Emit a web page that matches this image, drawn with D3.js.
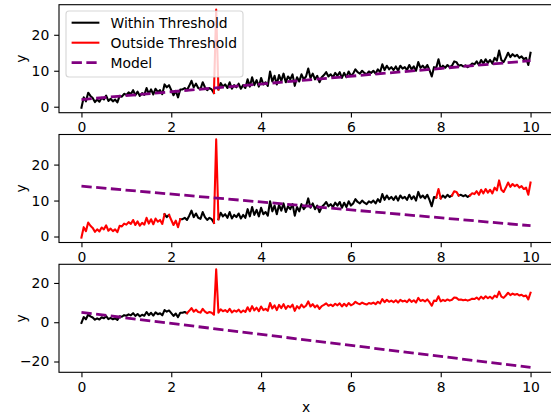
<!DOCTYPE html>
<html>
<head>
<meta charset="utf-8">
<script src="https://cdn.jsdelivr.net/npm/d3@7"></script>
<style>
  body { margin: 0; background: #fff; }
  text { font-family: "DejaVu Sans", sans-serif; }
</style>
</head>
<body>
<script>
// observed signal, sampled every 0.05 from x = 0 to x = 10
var ys = [
  -0.3, 2.6, 1.5, 3.9, 3.0, 2.4, 1.3, 2.0, 1.4, 2.5,
  2.0, 3.1, 1.6, 2.2, 1.5, 2.0, 1.2, 3.0, 2.8, 3.6,
  3.3, 4.0, 3.5, 4.6, 3.2, 4.2, 3.0, 3.8, 3.3, 5.2,
  3.6, 4.8, 3.4, 5.0, 4.1, 4.6, 3.5, 6.2, 5.4, 6.0,
  4.6, 3.2, 4.4, 2.6, 4.8, 4.8, 5.2, 4.6, 5.8, 7.2,
  5.4, 6.4, 5.2, 4.9, 6.8, 5.4, 4.6, 5.2, 4.8, 3.8,
  27.0, 4.8, 6.6, 5.6, 6.2, 5.2, 6.8, 5.0, 6.0, 5.4,
  6.4, 5.0, 6.0, 5.2, 7.6, 5.6, 8.2, 6.0, 7.4, 5.6,
  8.0, 6.2, 6.8, 5.8, 9.8, 7.0, 8.6, 6.2, 8.8, 7.2,
  9.2, 6.8, 8.4, 7.6, 9.0, 5.8, 8.2, 7.0, 9.0, 7.6,
  8.4, 10.6, 8.0, 9.2, 7.6, 8.6, 6.8, 8.2, 8.8, 9.6,
  8.4, 9.0, 8.2, 9.4, 8.6, 9.6, 8.0, 9.4, 8.2, 9.8,
  8.6, 9.2, 10.4, 9.6, 9.2, 10.0, 9.4, 9.0, 9.8, 9.4,
  10.0, 9.2, 10.4, 9.6, 11.8, 10.2, 11.4, 10.4, 11.0, 10.2,
  11.2, 10.0, 11.4, 10.6, 11.0, 10.2, 11.6, 10.4, 11.2, 10.0,
  12.4, 10.8, 11.4, 10.6, 11.6, 10.2, 8.4, 11.0, 10.8, 13.2,
  10.6, 11.4, 10.8, 11.6, 11.0, 11.4, 12.6, 12.4, 11.4, 11.6,
  11.2, 11.5, 11.0, 11.4, 12.0, 11.8, 12.6, 11.6, 13.0, 12.0,
  13.2, 12.2, 13.0, 12.0, 13.6, 12.8, 15.6, 13.0, 12.4, 13.6,
  15.0, 13.8, 14.6, 14.0, 14.4, 13.6, 14.0, 13.2, 13.6, 11.6,
  15.0
];
var xs = d3.range(ys.length).map(function(i) { return i * 0.05; });

// straight-line model of each panel, value at x = 0 and at x = 10
var modelStart = [2.0, 14.0, 5.0];
var modelEnd = [12.8, 3.0, -23.0];
var threshold = 7;

var xTicks = [0, 2, 4, 6, 8, 10];
var yTicks = [[0, 10, 20], [0, 10, 20], [-20, 0, 20]];
var legendLabels = ["Within Threshold", "Outside Threshold", "Model"];

var w = 551,
    h = 416,
    left = 59,
    right = 553,
    panelH = 108,
    panelTop = [4.7, 134.5, 264.3],
    fs = 13.9,
    tick = 4.86;

var svg = d3.select("body").append("svg")
    .attr("width", w)
    .attr("height", h);

var x = d3.scaleLinear().domain([-0.5, 10.5]).range([left, right]);

function modelAt(p, xv) {
  var x0 = xs[0], x1 = xs[xs.length - 1];
  return modelStart[p] + (modelEnd[p] - modelStart[p]) * (xv - x0) / (x1 - x0);
}

function styleAxis(g) {
  g.select(".domain").remove();
  g.selectAll("line").attr("stroke", "#000").attr("stroke-width", 1.1);
  g.selectAll("text").attr("fill", "#000").style("font-size", fs + "px");
}

panelTop.forEach(function(top, p) {
  var ext = d3.extent(ys.concat([modelStart[p], modelEnd[p]]));
  var pad = (ext[1] - ext[0]) * 0.05;
  var y = d3.scaleLinear().domain([ext[0] - pad, ext[1] + pad]).range([top + panelH, top]);
  var g = svg.append("g");

  // split the signal into runs of within / outside the threshold band
  var outside = ys.map(function(v, i) { return Math.abs(v - modelAt(p, xs[i])) > threshold; });
  var runs = [];
  for (var i = 0; i < ys.length - 1; i++) {
    var red = outside[i] || outside[i + 1];
    var last = runs[runs.length - 1];
    if (last && last.red === red) last.pts.push(i + 1);
    else runs.push({ red: red, pts: [i, i + 1] });
  }
  runs = runs.filter(function(r) { return !r.red; }).concat(runs.filter(function(r) { return r.red; }));

  var line = d3.line()
      .x(function(i) { return x(xs[i]); })
      .y(function(i) { return y(ys[i]); });

  g.selectAll("path.signal").data(runs).enter().append("path")
      .attr("class", "signal")
      .attr("d", function(r) { return line(r.pts); })
      .attr("fill", "none")
      .attr("stroke", function(r) { return r.red ? "#ff0000" : "#000000"; })
      .attr("stroke-width", 2.08)
      .attr("stroke-linejoin", "round")
      .attr("stroke-linecap", "square");

  g.append("path")
      .datum([[xs[0], modelStart[p]], [xs[xs.length - 1], modelEnd[p]]])
      .attr("d", d3.line().x(function(d) { return x(d[0]); }).y(function(d) { return y(d[1]); }))
      .attr("fill", "none")
      .attr("stroke", "#800080")
      .attr("stroke-width", 2.78)
      .attr("stroke-dasharray", "10.3,4.45");

  g.append("g")
      .attr("transform", "translate(0," + (top + panelH) + ")")
      .call(d3.axisBottom(x).tickValues(xTicks).tickSize(tick).tickPadding(tick).tickSizeOuter(0))
      .call(styleAxis);

  g.append("g")
      .attr("transform", "translate(" + left + ",0)")
      .call(d3.axisLeft(y).tickValues(yTicks[p]).tickSize(tick).tickPadding(tick).tickSizeOuter(0))
      .call(styleAxis);

  g.append("rect")
      .attr("x", left)
      .attr("y", top)
      .attr("width", right - left)
      .attr("height", panelH)
      .attr("fill", "none")
      .attr("stroke", "#000")
      .attr("stroke-width", 1.1);

  g.append("text")
      .attr("transform", "translate(21," + (top + panelH / 2) + ") rotate(-90)")
      .attr("text-anchor", "middle")
      .attr("dominant-baseline", "central")
      .style("font-size", fs + "px")
      .text("y");
});

svg.append("text")
    .attr("x", (left + right) / 2)
    .attr("y", 407)
    .attr("text-anchor", "middle")
    .attr("dominant-baseline", "central")
    .style("font-size", fs + "px")
    .text("x");

// legend in the first panel
var legend = svg.append("g");
legend.append("rect")
    .attr("x", 66)
    .attr("y", 11)
    .attr("width", 177)
    .attr("height", 66)
    .attr("rx", 3)
    .attr("fill", "#fff")
    .attr("fill-opacity", 0.8)
    .attr("stroke", "#cccccc")
    .attr("stroke-opacity", 0.8)
    .attr("stroke-width", 1.1);

var legendColors = ["#000000", "#ff0000", "#800080"];
legendLabels.forEach(function(label, i) {
  var cy = 22.7 + i * 20;
  legend.append("line")
      .attr("x1", 71.6)
      .attr("x2", 99.4)
      .attr("y1", cy)
      .attr("y2", cy)
      .attr("stroke", legendColors[i])
      .attr("stroke-width", i == 2 ? 2.78 : 2.08)
      .attr("stroke-dasharray", i == 2 ? "10.3,4.45" : null);
  legend.append("text")
      .attr("x", 110.5)
      .attr("y", cy)
      .attr("dominant-baseline", "central")
      .style("font-size", fs + "px")
      .text(label);
});
</script>
</body>
</html>
